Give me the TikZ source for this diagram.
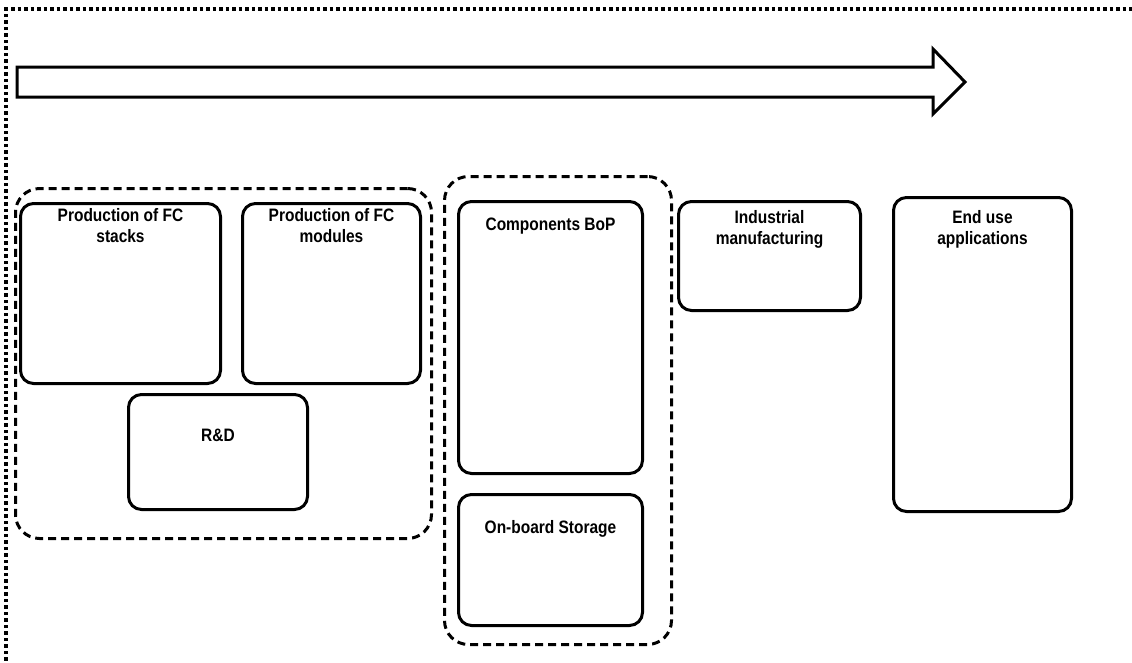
\documentclass[tikz,border=0pt]{standalone}
\usepackage{fontspec}
\setmainfont[FakeStretch=0.86]{Liberation Sans}
\begin{document}
\begin{tikzpicture}[x=1pt,y=-1pt,
  box/.style={draw=black,line width=3pt,rounded corners=13pt,anchor=north west,inner sep=0pt},
  group/.style={draw=black,line width=3pt,dash pattern=on 8pt off 5pt,rounded corners=24pt,anchor=north west,inner sep=0pt},
  lbl/.style={anchor=north,align=center,font=\fontsize{18}{21}\selectfont\bfseries,inner sep=0pt}]
\useasboundingbox (0,0) rectangle (1132,662);
% dotted frame
\draw[line width=3.5pt,dash pattern=on 3.5pt off 3pt] (6,680) -- (6,9) -- (1140,9);
% big arrow
\draw[line width=3pt,line join=miter] (17,67) -- (933,67) -- (933,49) -- (965,82) -- (933,114) -- (933,97) -- (17,97) -- cycle;
% groups
\node[group,minimum width=416pt,minimum height=350pt] (g1) at (14,187) {};
\node[group,minimum width=227pt,minimum height=468pt] (g2) at (443,175) {};
% boxes
\node[box,minimum width=200pt,minimum height=180pt] (stacks) at (19,202) {};
\node[box,minimum width=178pt,minimum height=180pt] (modules) at (241,202) {};
\node[box,minimum width=179pt,minimum height=115pt] (rd) at (127,393) {};
\node[box,minimum width=184pt,minimum height=272pt] (bop) at (457,200) {};
\node[box,minimum width=184pt,minimum height=131pt] (stor) at (457,493) {};
\node[box,minimum width=182pt,minimum height=109pt] (ind) at (677,200) {};
\node[box,minimum width=178pt,minimum height=314pt] (end) at (892,196) {};
% labels
\node[lbl] (tstacks) at ([yshift=-6pt]stacks.north) {Production of FC\\stacks};
\node[lbl] (tmodules) at ([yshift=-6pt]modules.north) {Production of FC\\modules};
\node[lbl] (trd) at ([yshift=-36pt]rd.north) {R\&D};
\node[lbl] (tbop) at ([yshift=-18pt]bop.north) {Components BoP};
\node[lbl] (tstor) at ([yshift=-27pt]stor.north) {On-board Storage};
\node[lbl] (tind) at ([yshift=-10pt]ind.north) {Industrial\\manufacturing};
\node[lbl] (tend) at ([yshift=-14pt]end.north) {End use\\applications};
\end{tikzpicture}
\end{document}
